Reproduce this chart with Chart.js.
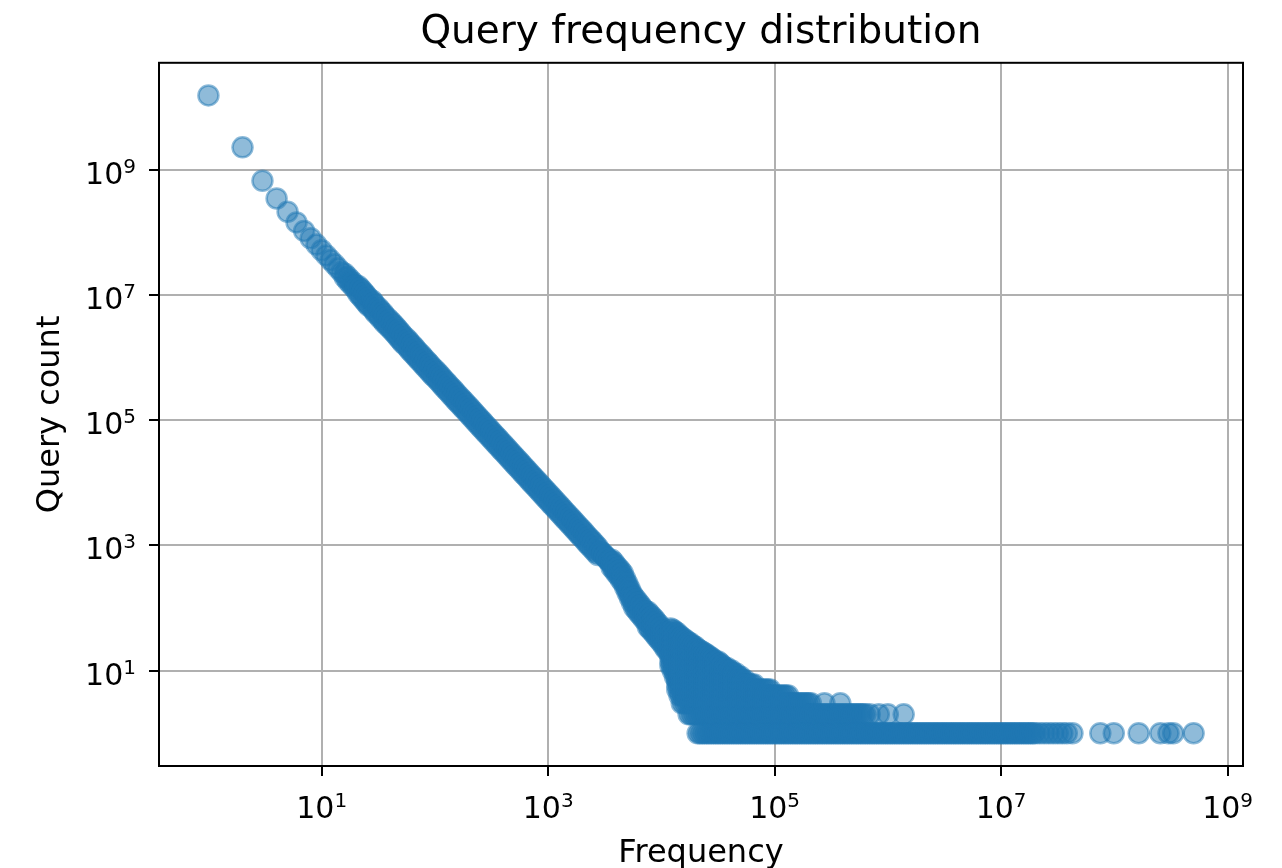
<!DOCTYPE html>
<html>
<head>
<meta charset="utf-8">
<script src="https://cdn.jsdelivr.net/npm/chart.js@4/dist/chart.umd.min.js"></script>
<style>
html,body{margin:0;padding:0;background:#fff;}
canvas{display:block;}
</style>
</head>
<body>
<canvas id="c" width="1282" height="868"></canvas>
<script>
// ---- data ----
const headFreq  = [1, 2, 3, 4, 5, 6, 7, 8, 9, 10, 11, 12, 13, 14, 15];
const headCount = [1.55e10, 2.29e9, 6.7e8, 3.5e8, 2.14e8, 1.45e8, 1.06e8, 8.1e7, 6.4e7, 5.2e7,
  4.30e7, 3.62e7, 3.10e7, 2.67e7, 2.33e7];

// straight part of the curve: a band that thickens, counts read along its upper and lower side
const lineFreq = [16,17,18,19,20,
  21,22,23,24,25,26,28,29,30,32,33,35,36,38,40,42,44,46,48,50,
  52,55,58,60,63,66,69,72,76,79,83,87,91,95,100,105,110,115,120,126,
  132,138,145,151,158,166,174,182,191,200,209,219,229,240,251,263,275,288,302,316,
  331,347,363,380,398,417,437,457,479,501,525,550,575,603,631,661,692,724,759,794,
  832,871,912,955,1000,1047,1096,1148,1202,1259,1318,1380,1445,1514,1585,1660,1738,1820,1905,1995,
  2089,2188,2291,2399,2512,2630,2754];
const lineCountHigh = [2.20e7,1.95e7,1.74e7,1.57e7,1.41e7,
  1.398e7,1.277e7,1.166e7,1.064e7,9.72e6,8.88e6,8.11e6,7.41e6,6.76e6,6.18e6,
  5.65e6,5.15e6,4.70e6,4.29e6,3.92e6,3.59e6,3.27e6,2.99e6,2.73e6,2.50e6,
  2.28e6,2.08e6,1.90e6,1.74e6,1.59e6,1.45e6,1.32e6,1.21e6,1.10e6,1.01e6,
  9.20e5,8.40e5,7.67e5,6.99e5,6.39e5,5.84e5,5.32e5,4.88e5,4.44e5,4.06e5,
  3.71e5,3.38e5,3.09e5,2.82e5,2.58e5,2.36e5,2.15e5,1.97e5,1.79e5,1.64e5,
  1.50e5,1.37e5,1.25e5,1.14e5,1.04e5,9.52e4,8.68e4,7.94e4,7.25e4,6.61e4,
  6.05e4,5.52e4,5.05e4,4.60e4,4.21e4,3.84e4,3.51e4,3.21e4,2.92e4,2.67e4,
  2.44e4,2.23e4,2.04e4,1.85e4,1.70e4,1.55e4,1.41e4,1.29e4,1.18e4,1.08e4,
  9860,8990,8210,7500,6850,6260,5720,5220,4760,4350,
  3980,3630,3310,3020,2760,2530,2300,2100,1920,1760,
  1610,1460,1330,1220,1120,1020,930];
const lineCountLow = [1.92e7,1.69e7,1.52e7,1.37e7,1.23e7,
  1.058e7,9.66e6,8.82e6,8.05e6,7.35e6,6.72e6,6.13e6,5.60e6,5.12e6,4.67e6,
  4.27e6,3.90e6,3.56e6,3.25e6,2.97e6,2.71e6,2.47e6,2.26e6,2.06e6,1.89e6,
  1.72e6,1.57e6,1.44e6,1.31e6,1.20e6,1.10e6,1.00e6,9.14e5,8.33e5,7.61e5,
  6.96e5,6.35e5,5.80e5,5.29e5,4.84e5,4.42e5,4.03e5,3.69e5,3.36e5,3.07e5,
  2.81e5,2.56e5,2.34e5,2.13e5,1.95e5,1.78e5,1.63e5,1.49e5,1.36e5,1.24e5,
  1.13e5,1.04e5,9.48e4,8.62e4,7.88e4,7.20e4,6.57e4,6.00e4,5.48e4,5.00e4,
  4.58e4,4.18e4,3.82e4,3.48e4,3.18e4,2.91e4,2.65e4,2.43e4,2.21e4,2.02e4,
  1.84e4,1.69e4,1.54e4,1.40e4,1.29e4,1.17e4,1.07e4,9740,8960,8160,
  7460,6800,6210,5670,5190,4730,4320,3950,3600,3290,
  3010,2750,2510,2290,2090,1910,1740,1590,1450,1330,
  1220,1100,1010,922,844,772,704];

// frequencies where several counts appear (bend of the curve and the noisy cloud)
const spreadFreq = [2884,3020,3162,3311,3467,3631,3802,3981,4169,4365,4571,4786,5012,5248,5495,5754,
  6026,6310,6607,6918,7244,7586,7943,8318,8710,9120,9550,10000,10471,10965,11482,
  12023,12589,13183,13804,14454,15136,15849,16596,17378,18197,19055,19953,
  20893,21878,22909,23988,25119,26303,27542,28840,30200,31623,33113,34674,36308,38019,39811,41687,
  43652,45709,47863,50119,52481,54954,57544,60256,63096,66069,69183,72444,75858,79433,83176,87096,
  91201,95499,100000,104713,109648,114815,120226,125893,131826,138038,144544,151356,158489,165959,
  173780,181970,190546,199526,208930,218776,229087,239883,251189,263027,275423,288403,301995,316228,
  331131,346737,363078,380189,398107,416869,436516,457088,478630,501187,524807,549541,575440,602560];
const spreadCounts = [
  [810,776],[757,724],[690,662],[630,604],[574,550],[589,513,447],[537,468,407],[479,417,363],[437,380,331],
  [398,339,288],[355,302,257],[295,251,214],[245,209,178],[204,174,148],[170,145,123],[148,123,102],
  [135,112,93],[120,100,83],[109,91,76],[97,81,68],[89,74,62],[87,72,60,50],[79,66,55,46],[72,60,50,42],
  [66,55,46,38],[59,50,41,34],[54,45,37,31],[48,40,33,28],[43,36,30,25],[39,33,27,22],[35,30,24,20],
  [47,42,36,30,25,20,17,14,12],
  [45,40,34,28,24,20,17,14,12,10],
  [42,36,30,25,20,17,14,12,10,8],
  [40,34,28,24,20,17,14,12,10,8,7,6,5],
  [36,30,25,20,17,14,12,10,8,7,6,5,4],
  [34,28,24,20,17,14,12,10,8,7,6,5,4,3],
  [32,25,20,17,14,12,10,8,7,6,5,4,3],
  [30,25,20,17,14,12,10,8,7,6,5,4,3],
  [28,24,20,17,14,12,10,8,7,6,5,4,3,2],
  [27,22,18,15,12,10,8,7,6,5,4,3,2],
  [25,20,17,14,12,10,8,7,6,5,4,3,2],
  [24,20,17,14,12,10,8,7,6,5,4,3,2],
  [22,18,15,12,10,8,7,6,5,4,3,2,1],
  [21,17,14,12,10,8,7,6,5,4,3,2,1],
  [20,17,14,12,10,8,7,6,5,4,3,2,1],
  [19,16,13,11,9,7,6,5,4,3,2,1],
  [18,15,12,10,8,7,6,5,4,3,2,1],
  [17,14,12,10,8,7,6,5,4,3,2,1],
  [16,14,12,10,8,7,6,5,4,3,2,1],
  [15,13,11,9,7,6,5,4,3,2,1],
  [14,12,10,8,7,6,5,4,3,2,1],
  [14,12,10,8,7,6,5,4,3,2,1],
  [13,11,9,8,7,6,5,4,3,2,1],
  [12,10,8,7,6,5,4,3,2,1],
  [11,10,8,7,6,5,4,3,2,1],
  [11,9,8,7,6,5,4,3,2,1],
  [10,8,7,6,5,4,3,2,1],
  [10,8,7,6,5,4,3,2,1],
  [9,8,7,6,5,4,3,2,1],
  [9,7,6,5,4,3,2,1],
  [8,7,6,5,4,3,2,1],
  [8,7,6,5,4,3,2,1],
  [7,6,5,4,3,2,1],[7,6,5,4,3,2,1],
  [6,5,4,3,2,1],[6,5,4,3,2,1],[6,5,4,3,2,1],[6,5,4,3,2,1],
  [5,4,3,2,1],[5,4,3,2,1],[5,4,3,2,1],[5,4,3,2,1],[5,4,3,2,1],[5,4,3,2,1],[5,4,3,2,1],
  [4,3,2,1],[4,3,2,1],[4,3,2,1],[4,3,2,1],[4,3,2,1],[4,3,2,1],[4,3,2,1],[4,3,2,1],
  [3,2,1],[3,2,1],[3,2,1],[3,2,1],[3,2,1],[3,2,1],[3,2,1],[3,2,1],[3,2,1],[3,2,1],
  [2,1],[2,1],[2,1],[2,1],[2,1],[3,2,1],[2,1],[2,1],[2,1],
  [2,1],[2,1],[2,1],[3,2,1],[2,1],[2,1],[2,1],[2,1],[2,1],[2,1],[2,1],[2,1],[2,1],[2,1]];

// long tail: frequencies seen only once or twice
const tailFreq = [6.310e5,6.310e5,6.607e5,6.918e5,6.918e5,7.244e5,7.586e5,7.943e5,8.318e5,8.318e5,
  8.710e5,9.120e5,9.550e5,1.000e6,1.000e6,1.047e6,1.096e6,1.148e6,1.202e6,1.259e6,
  1.318e6,1.380e6,1.380e6,1.445e6,1.514e6,1.585e6,1.660e6,1.738e6,1.820e6,1.905e6,
  1.995e6,2.089e6,2.188e6,2.291e6,2.399e6,2.512e6,2.630e6,2.754e6,2.884e6,3.020e6,
  3.162e6,3.311e6,3.467e6,3.631e6,3.802e6,3.981e6,4.169e6,4.365e6,4.571e6,4.786e6,
  5.012e6,5.248e6,5.495e6,5.754e6,6.026e6,6.310e6,6.607e6,6.918e6,7.244e6,7.586e6,
  7.943e6,8.318e6,8.710e6,9.120e6,9.550e6,1.000e7,1.047e7,1.096e7,1.148e7,1.202e7,
  1.259e7,1.318e7,1.380e7,1.445e7,1.514e7,1.585e7,1.660e7,1.738e7,1.820e7,1.905e7,
  1.995e7,2.188e7,2.399e7,2.630e7,2.884e7,3.162e7,3.467e7,3.802e7,4.266e7,
  7.516e7,9.886e7,1.641e8,2.547e8,3.006e8,3.311e8,5.012e8];
const tailCount = [1,2,1,1,2,1,1,1,1,2,
  1,1,1,1,2,1,1,1,1,1,
  1,1,2,1,1,1,1,1,1,1,
  1,1,1,1,1,1,1,1,1,1,
  1,1,1,1,1,1,1,1,1,1,
  1,1,1,1,1,1,1,1,1,1,
  1,1,1,1,1,1,1,1,1,1,
  1,1,1,1,1,1,1,1,1,1,
  1,1,1,1,1,1,1,1,1,
  1,1,1,1,1,1,1];

const tickValues = [1e1, 1e3, 1e5, 1e7, 1e9];
const tickBase = '10';
const tickExponents = ['1', '3', '5', '7', '9'];

// ---- build points ----
const points = [];
headFreq.forEach((f, i) => points.push({x: f, y: headCount[i]}));
lineFreq.forEach((f, i) => {
  points.push({x: f, y: lineCountHigh[i]});
  points.push({x: f, y: lineCountLow[i]});
});
spreadFreq.forEach((f, i) => spreadCounts[i].forEach(c => points.push({x: f, y: c})));
tailFreq.forEach((f, i) => points.push({x: f, y: tailCount[i]}));

const FONT = 'DejaVu Sans';
const BASE_SIZE = 30, SUP_SIZE = 20;

// frame (all four spines) + mathtext-like tick labels "10^n"
const decor = {
  id: 'decor',
  afterDraw(chart) {
    const {ctx, chartArea: a} = chart;
    ctx.save();
    ctx.strokeStyle = '#000';
    ctx.lineWidth = 2;
    ctx.strokeRect(a.left, a.top, a.right - a.left, a.bottom - a.top);
    ctx.fillStyle = '#000';
    ctx.textBaseline = 'alphabetic';
    ctx.textAlign = 'left';
    const baseFont = BASE_SIZE + 'px "' + FONT + '"';
    const supFont = SUP_SIZE + 'px "' + FONT + '"';
    const xs = chart.scales.x, ys = chart.scales.y;
    tickValues.forEach((v, i) => {
      ctx.font = baseFont;
      const wb = ctx.measureText(tickBase).width;
      ctx.font = supFont;
      const ws = ctx.measureText(tickExponents[i]).width;
      // x axis label, centred on the tick
      const px = xs.getPixelForValue(v);
      const x0 = px - (wb + ws) / 2;
      const by = a.bottom + 52;
      ctx.font = baseFont; ctx.fillText(tickBase, x0, by);
      ctx.font = supFont; ctx.fillText(tickExponents[i], x0 + wb, by - 11);
      // y axis label, right aligned before the tick mark
      const py = ys.getPixelForValue(v);
      const xr = a.left - 23;
      const yb = py + 14;
      ctx.font = baseFont; ctx.fillText(tickBase, xr - ws - wb, yb);
      ctx.font = supFont; ctx.fillText(tickExponents[i], xr - ws, yb - 11);
    });
    ctx.restore();
  }
};

function axisOpts(isX) {
  return {
    type: 'logarithmic',
    bounds: 'data',
    min: isX ? 0.366 : 0.299,
    max: isX ? 1.368e9 : 5.14e10,
    afterBuildTicks: s => { s.ticks = tickValues.map(v => ({value: v})); },
    afterFit: s => { if (isX) s.height = 102; else s.width = 159; },
    ticks: {display: false, autoSkip: false, maxRotation: 0, minRotation: 0},
    grid: {color: '#b0b0b0', lineWidth: 2, tickColor: '#000', tickLength: 10, tickWidth: 2},
    border: {display: true, color: '#000', width: 2},
    title: {
      display: true,
      text: isX ? 'Frequency' : 'Query count',
      color: '#000',
      font: {family: FONT, size: 32, lineHeight: 1},
      padding: isX ? {top: 0, bottom: -2} : {top: 35, bottom: 0}
    }
  };
}

new Chart(document.getElementById('c'), {
  type: 'scatter',
  data: {
    datasets: [{
      label: 'queries',
      data: points,
      pointRadius: 10,
      pointHoverRadius: 10,
      pointBorderWidth: 2.5,
      backgroundColor: 'rgba(31,119,180,0.5)',
      borderColor: 'rgba(31,119,180,0.5)'
    }]
  },
  options: {
    responsive: false,
    animation: false,
    events: [],
    layout: {padding: {left: 0, right: 39, top: 0, bottom: 0}},
    plugins: {
      legend: {display: false},
      tooltip: {enabled: false},
      title: {
        display: true,
        text: 'Query frequency distribution',
        fullSize: false,
        color: '#000',
        font: {family: FONT, size: 39, weight: 'normal', lineHeight: 1.2},
        padding: {top: 9, bottom: 7}
      }
    },
    scales: {x: axisOpts(true), y: axisOpts(false)}
  },
  plugins: [decor]
});
</script>
</body>
</html>
